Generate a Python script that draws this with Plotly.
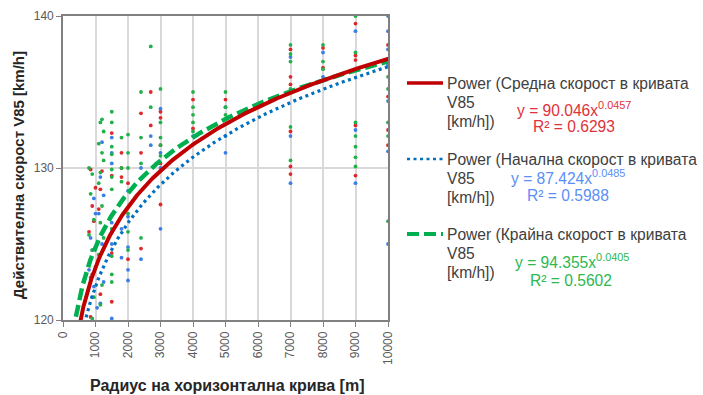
import numpy as np
import plotly.graph_objects as go

# ---------------- data ----------------
series_names = ["Средна скорост в кривата V85 [km/h]",
                "Начална скорост в кривата V85 [km/h]",
                "Крайна скорост в кривата V85 [km/h]"]

red_x = [10000, 10000, 10000, 10000, 10000,
         9000, 9000, 9000, 9000, 9000,
         8000, 8000,
         7000, 7000, 7000, 7000, 7000, 7000,
         5000,
         4000, 4000,
         3000, 3000, 3000, 3000, 3000,
         2700, 2700,
         2400, 2400, 2400,
         2000, 2000,
         1800, 1800, 1800,
         1500, 1500, 1500, 1500,
         1200, 1150, 1100,
         850, 1000, 900, 950, 800, 1000, 900, 1150, 850]
red_y = [138.1, 137.2, 134.7, 132.5, 131.5,
         139.5, 137.4, 137.1, 132.8, 129.5,
         137.9, 136.6,
         137.8, 136.0, 135.5, 132.4, 130.1, 129.6,
         134.5,
         134.5, 132.6,
         133.7, 133.3, 131.5, 130.3, 127.6,
         135.0, 132.8,
         133.6, 131.0, 124.7,
         129.0, 124.0,
         131.0, 130.0, 129.4,
         132.3, 129.5, 124.4, 121.2,
         129.8, 128.6, 127.3,
         129.9, 128.7, 127.5, 126.5, 125.8, 124.8, 123.0, 121.7, 120.2]

blue_x = [10000, 10000, 10000, 10000, 10000, 10000, 10000,
          9000, 9000, 9000,
          8000, 8000,
          7000, 7000, 7000,
          5000, 5000, 5000,
          4000,
          3000, 3000, 3000, 3000,
          2700, 2700,
          2400, 2400,
          2000, 2000, 2000, 2000, 2000,
          1800, 1800,
          1500, 1500, 1500, 1500, 1500, 1500, 1500,
          1200, 1150, 1250, 1100, 1200, 1250, 1150,
          950, 1000, 850, 900, 800, 950, 900, 1050]
blue_y = [140.0, 139.0, 137.8, 136.8, 134.4, 131.1, 125.0,
          139.0, 132.5, 129.0,
          137.6, 136.0,
          137.3, 132.1, 129.0,
          134.0, 132.1, 131.0,
          132.1,
          133.9, 131.0, 130.0, 126.0,
          132.1, 131.5,
          130.0, 124.0,
          128.5, 126.8, 124.8, 123.3, 122.6,
          126.0, 124.1,
          132.0, 131.0, 130.3, 126.4, 125.8, 125.0, 120.1,
          131.7, 129.4, 128.2, 127.0, 125.0, 122.5, 121.1,
          128.0, 127.0, 125.4, 124.6, 123.3, 122.2, 121.5, 120.8]

green_x = [10000, 10000, 10000, 10000, 10000, 10000,
           9000, 9000, 9000, 9000, 9000, 9000, 9000,
           8000, 8000, 8000,
           7000, 7000, 7000, 7000, 7000, 7000,
           5000, 5000, 5000,
           4000, 4000, 4000, 4000, 4000,
           3000, 3000, 3000, 3000, 3000,
           2700, 2700,
           2400, 2400, 2400, 2400,
           2000, 2000, 2000, 2000, 2000, 2000,
           1800, 1800, 1800,
           1500, 1500, 1500, 1500, 1500, 1500, 1500, 1500, 1500, 1500, 1500,
           1200, 1150, 1250, 1100, 1200, 1250, 1150, 1100, 1200, 1150, 1250, 1100, 1200, 1150,
           800, 900, 850, 950, 800, 900, 1000, 850, 950, 900]
green_y = [137.0, 136.0, 135.2, 133.0, 132.1, 126.5,
           140.0, 137.6, 133.0, 132.1, 131.4, 130.7, 130.1,
           138.1, 137.0, 136.5,
           138.1, 137.5, 137.0, 135.2, 132.7, 130.5,
           135.0, 134.0, 133.5,
           135.0, 134.0, 133.5, 133.0, 132.4,
           135.2, 133.0, 132.0, 131.5, 130.8,
           138.0, 134.0,
           135.0, 132.0, 130.3, 125.4,
           132.2, 131.0, 130.0, 127.0, 125.8, 124.6,
           132.0, 130.0, 129.1,
           133.7, 133.0, 131.4, 130.9, 129.9, 129.4, 128.6, 126.0, 124.2, 123.0, 122.5,
           133.2, 133.0, 132.4, 131.6, 131.0, 130.5, 129.7, 129.0, 127.5, 126.4, 125.4, 124.3, 122.3, 121.0,
           130.0, 129.6, 128.3, 126.6, 125.6, 124.6, 123.5, 122.8, 121.5, 120.1]

# power trendlines y = a * x^b  (coefficients as shown on the chart)
fit_a = [90.046, 87.424, 94.355]
fit_b = [0.0457, 0.0485, 0.0405]
fit_r2 = ["0.6293", "0.5988", "0.5602"]

x_ticks = [0, 1000, 2000, 3000, 4000, 5000, 6000, 7000, 8000, 9000, 10000]
x_tick_text = ["0", "1000", "2000", "3000", "4000", "5000", "6000", "7000", "8000", "9000", "10000"]
y_ticks = [120, 130, 140]

# ---------------- styling ----------------
W, H = 703, 395
L, R, T, B = 63, 315, 16, 75
PW, PH = W - L - R, H - T - B


def px(x):
    return (x - L) / PW


def py(y):
    return (H - B - y) / PH


pt_colors = ["#E0282C", "#3A7FE8", "#22B04A"]
line_colors = ["#C00000", "#0070C0", "#00B050"]
eq_colors = ["#E0323A", "#5B8FF5", "#2DB850"]
line_dash = ["solid", "3px,3.5px", "12px,5px"]
line_width = [4, 3.2, 4.5]

fig = go.Figure()

pts = [(red_x, red_y), (blue_x, blue_y), (green_x, green_y)]
for i, (xs, ys) in enumerate(pts):
    fig.add_trace(go.Scatter(x=xs, y=ys, mode="markers",
                             marker=dict(size=3.8, color=pt_colors[i], line=dict(width=0)),
                             showlegend=False, cliponaxis=True))

xc = np.geomspace(250, 10000, 400)
# draw order: blue, green, red (red on top)
for i in [1, 2, 0]:
    yc = fit_a[i] * xc ** fit_b[i]
    fig.add_trace(go.Scatter(x=xc, y=yc, mode="lines",
                             line=dict(color=line_colors[i], width=line_width[i], dash=line_dash[i]),
                             showlegend=False))

axis_common = dict(showline=True, mirror=True, linecolor="#808080", linewidth=1.6,
                   ticks="outside", ticklen=5, tickcolor="#808080", tickwidth=1,
                   showgrid=True, gridcolor="#D9D9D9", gridwidth=1.5, zeroline=False,
                   automargin=False,
                   tickfont=dict(family="Liberation Sans, Arial", size=12, color="#595959"))

fig.update_layout(
    width=W, height=H,
    margin=dict(l=L, r=R, t=T, b=B, autoexpand=False),
    paper_bgcolor="white", plot_bgcolor="white",
    xaxis=dict(range=[0, 10000], tickvals=x_ticks, ticktext=x_tick_text, tickangle=-90, **axis_common),
    yaxis=dict(range=[120, 140], tickvals=y_ticks, **axis_common),
    showlegend=False,
)

annots = []
shapes = []
# axis titles
annots.append(dict(text="<b>Радиус на хоризонтална крива [m]</b>", xref="paper", yref="paper",
                   x=px(227), y=py(385), xanchor="center", yanchor="middle", showarrow=False,
                   font=dict(family="Liberation Sans, Arial", size=16, color="#262626")))
annots.append(dict(text="<b>Действителна скорост V85 [km/h]</b>", xref="paper", yref="paper",
                   x=px(18), y=py(175), xanchor="center", yanchor="middle", showarrow=False,
                   textangle=-90,
                   font=dict(family="Liberation Sans, Arial", size=15, color="#262626")))

# custom legend
leg_short = ["Средна скорост в кривата", "Начална скорост в кривата", "Крайна скорост в кривата"]
leg_y = [83, 159, 234]
eq_x = [515, 509, 513]
r2_x = [531, 525, 528]
eq_dy = [26.3, 17.7, 27]
r2_dy = [43.7, 36.7, 46.7]
FS = 15.6
lf = dict(family="Liberation Sans, Arial", size=FS, color="#404040")
for i in range(3):
    y0 = leg_y[i]
    shapes.append(dict(type="line", xref="paper", yref="paper",
                       x0=px(407), x1=px(443), y0=py(y0), y1=py(y0),
                       line=dict(color=line_colors[i], width=line_width[i] - 0.5,
                                 dash=line_dash[i])))
    annots.append(dict(text="Power (" + leg_short[i], xref="paper", yref="paper",
                       x=px(445), y=py(y0), xanchor="left", yanchor="middle",
                       showarrow=False, font=lf))
    annots.append(dict(text="V85", xref="paper", yref="paper",
                       x=px(445), y=py(y0 + 19.5), xanchor="left", yanchor="middle",
                       showarrow=False, font=lf))
    annots.append(dict(text="[km/h])", xref="paper", yref="paper",
                       x=px(445), y=py(y0 + 38.5), xanchor="left", yanchor="middle",
                       showarrow=False, font=lf))
    ef = dict(family="Liberation Sans, Arial", size=FS, color=eq_colors[i])
    annots.append(dict(text=f"y = {fit_a[i]:.3f}x<sup>{fit_b[i]}</sup>", xref="paper", yref="paper",
                       x=px(eq_x[i]), y=py(y0 + eq_dy[i]), xanchor="left", yanchor="middle",
                       showarrow=False, font=ef))
    annots.append(dict(text=f"R² = {fit_r2[i]}", xref="paper", yref="paper",
                       x=px(r2_x[i]), y=py(y0 + r2_dy[i]), xanchor="left", yanchor="middle",
                       showarrow=False, font=ef))

fig.update_layout(annotations=annots, shapes=shapes)
fig.write_html("out.html", config={"displayModeBar": False},
               post_script="document.body.style.margin='0px';document.body.style.padding='0px';")
